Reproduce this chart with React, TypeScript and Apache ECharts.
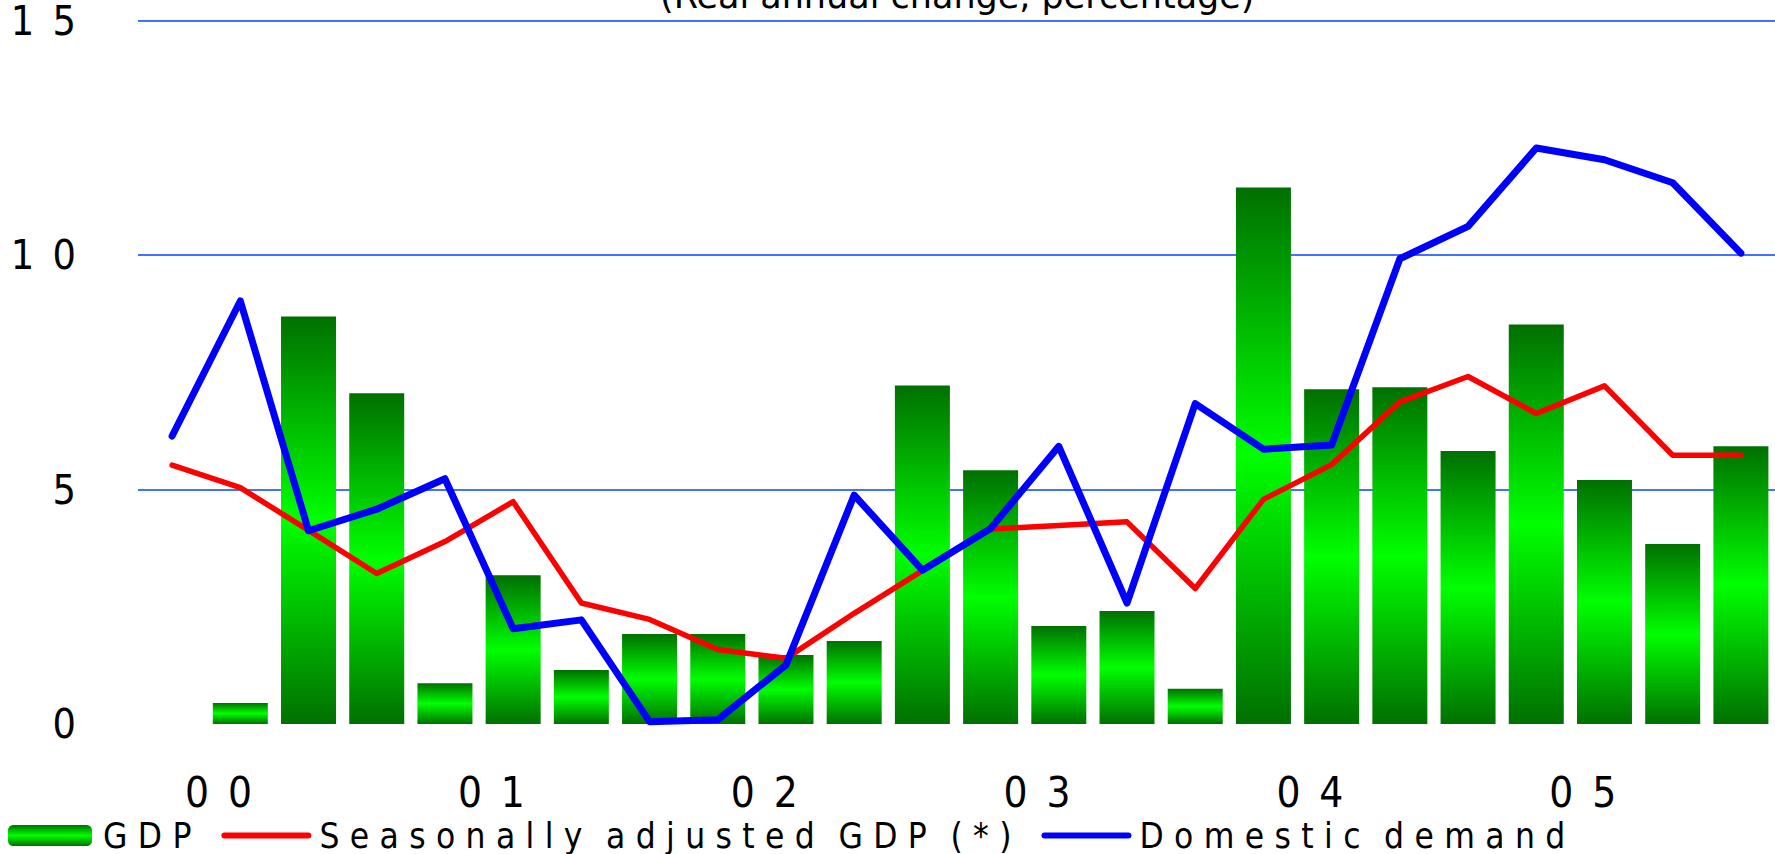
import React, { useEffect, useRef } from 'react';
import * as echarts from 'echarts';

const categories = [
  '00 Q1', '00 Q2', '00 Q3', '00 Q4',
  '01 Q1', '01 Q2', '01 Q3', '01 Q4',
  '02 Q1', '02 Q2', '02 Q3', '02 Q4',
  '03 Q1', '03 Q2', '03 Q3', '03 Q4',
  '04 Q1', '04 Q2', '04 Q3', '04 Q4',
  '05 Q1', '05 Q2', '05 Q3', '05 Q4',
];

const gdp = [null, 0.45, 8.69, 7.05, 0.87, 3.17, 1.15, 1.92, 1.92, 1.47, 1.77, 7.22,
  5.41, 2.09, 2.41, 0.75, 11.44, 7.14, 7.18, 5.82, 8.52, 5.2, 3.84, 5.92];

const seasonalGdp = [5.52, 5.04, 4.13, 3.21, 3.89, 4.74, 2.58, 2.23, 1.59, 1.4, 2.36, 3.27,
  4.16, 4.23, 4.31, 2.89, 4.79, 5.53, 6.87, 7.41, 6.62, 7.21, 5.73, 5.73];

const domesticDemand = [6.14, 9.02, 4.12, 4.58, 5.23, 2.03, 2.22, 0.05, 0.09, 1.26, 4.88, 3.28,
  4.17, 5.92, 2.58, 6.83, 5.86, 5.95, 9.92, 10.61, 12.28, 12.03, 11.54, 10.04];

const seriesNames = ['GDP', 'Seasonally adjusted GDP (*)', 'Domestic demand'];
const titleText = '(Real annual change, percentage)';

const FONT = "'Liberation Sans Narrow', 'DejaVu Sans Condensed', 'Noto Sans', sans-serif";

const spaceOut = (s: string) =>
  s.split(' ').map((w) => w.split('').join('\u2004')).join('\u2002\u2005');
const spaceDigits = (s: string) => s.split('').join('\u2002');

export default function App() {
  const ref = useRef<HTMLDivElement>(null);

  useEffect(() => {
    document.body.style.margin = '0';
    document.body.style.overflow = 'hidden';
    const chart = echarts.init(ref.current!, null, { renderer: 'svg' });
    const barGrad = new echarts.graphic.LinearGradient(0, 0, 0, 1, [
      { offset: 0, color: '#007000' },
      { offset: 0.5, color: '#00ff00' },
      { offset: 1, color: '#007000' },
    ]);
    chart.setOption({
      animation: false,
      backgroundColor: '#ffffff',
      title: {
        text: titleText,
        left: 660,
        top: -22,
        padding: 0,
        textStyle: { fontFamily: 'DejaVu Sans', fontSize: 35, fontWeight: 'normal', color: '#000' },
      },
      grid: { left: 138, right: -5, top: 20, bottom: 130 },
      legend: {
        left: 8,
        top: 818,
        padding: 0,
        itemGap: 30,
        itemWidth: 84,
        itemHeight: 21,
        formatter: (name: string) => spaceOut(name),
        textStyle: { fontFamily: FONT, fontSize: 35, lineHeight: 30, color: '#000', padding: [0, 0, 0, 6] },
        data: [
          { name: seriesNames[0] },
          {
            name: seriesNames[1],
            itemStyle: { opacity: 0 },
            lineStyle: { width: 6, cap: 'round', color: '#ff0000' },
          },
          {
            name: seriesNames[2],
            itemStyle: { opacity: 0 },
            lineStyle: { width: 6, cap: 'round', color: '#0000ff' },
          },
        ],
      },
      xAxis: {
        type: 'category',
        data: categories,
        boundaryGap: true,
        axisLine: { show: false },
        axisTick: { show: false },
        axisLabel: {
          interval: 3,
          margin: 47,
          align: 'left',
          padding: [0, 0, 0, 13],
          fontFamily: FONT,
          fontSize: 42,
          color: '#000',
          formatter: (v: string) => spaceDigits(v.slice(0, 2)),
        },
      },
      yAxis: {
        type: 'value',
        min: 0,
        max: 15,
        interval: 5,
        axisLine: { show: false },
        axisTick: { show: false },
        splitLine: { show: true, showMinLine: false, lineStyle: { color: '#4272ff', width: 2 } },
        axisLabel: {
          margin: 62,
          lineHeight: 30,
          padding: [8, 0, 0, 0],
          fontFamily: FONT,
          fontSize: 41,
          color: '#000',
          formatter: (v: number) => spaceDigits(String(v)),
        },
      },
      series: [
        {
          name: seriesNames[0],
          type: 'bar',
          data: gdp,
          barWidth: 55,
          itemStyle: { color: barGrad },
        },
        {
          name: seriesNames[1],
          type: 'line',
          data: seasonalGdp,
          symbol: 'none',
          lineStyle: { color: '#ff0000', width: 5.5, cap: 'round', join: 'round' },
          itemStyle: { color: '#ff0000' },
        },
        {
          name: seriesNames[2],
          type: 'line',
          data: domesticDemand,
          symbol: 'none',
          lineStyle: { color: '#0000ff', width: 7, cap: 'round', join: 'round' },
          itemStyle: { color: '#0000ff' },
        },
      ],
    });
    return () => chart.dispose();
  }, []);

  return <div ref={ref} style={{ position: 'fixed', left: 0, top: 0, width: 1775, height: 854 }} />;
}
